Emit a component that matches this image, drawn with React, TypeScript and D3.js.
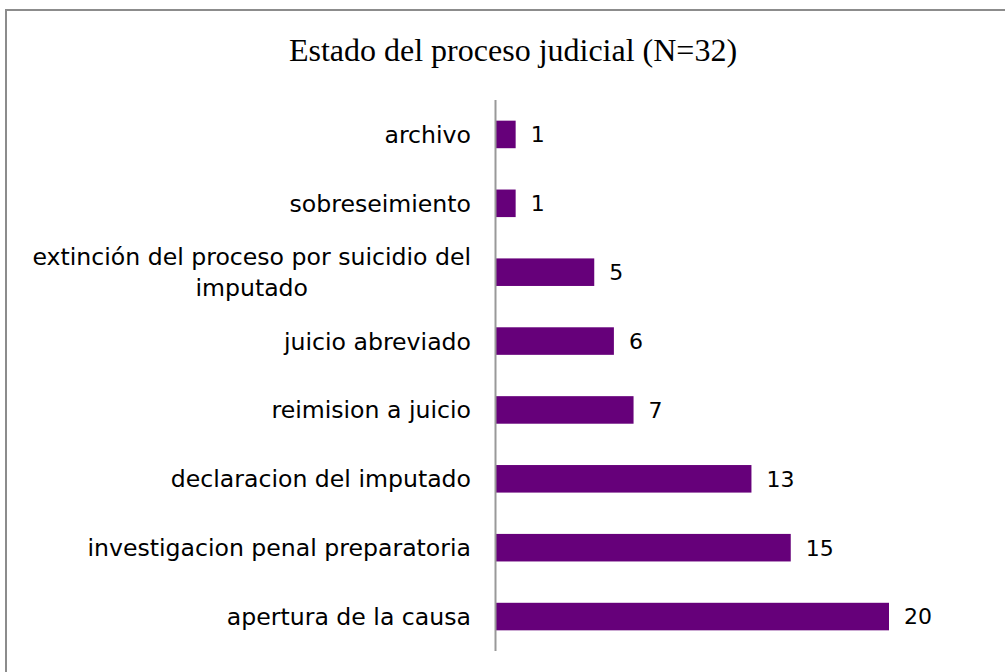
import React, { useEffect, useRef } from 'react';
import * as d3 from 'd3';

const title = 'Estado del proceso judicial (N=32)';
const categories = [
  'archivo',
  'sobreseimiento',
  'extinción del proceso por suicidio del imputado',
  'juicio abreviado',
  'reimision a juicio',
  'declaracion del imputado',
  'investigacion penal preparatoria',
  'apertura de la causa',
];
const values = [1, 1, 5, 6, 7, 13, 15, 20];

const W = 1005;
const H = 672;

export default function App() {
  const svgRef = useRef<SVGSVGElement>(null);

  useEffect(() => {
    if (!svgRef.current) return;
    const svg = d3.select(svgRef.current);
    svg.selectAll('*').remove();

    const left = 496;
    const top = 100;
    const bottom = 651;
    const labelFont = '"DejaVu Sans", sans-serif';
    const labelSize = '23.6px';

    // chart frame
    svg.append('rect')
      .attr('x', 6).attr('y', 10)
      .attr('width', W + 20).attr('height', H + 20)
      .attr('fill', '#fff')
      .attr('stroke', '#8c8c8c')
      .attr('stroke-width', 2);

    svg.append('text')
      .attr('x', 513).attr('y', 61)
      .attr('text-anchor', 'middle')
      .style('font-family', '"Liberation Serif", serif')
      .style('font-size', '32px')
      .attr('fill', '#000')
      .text(title);

    const x = d3.scaleLinear().domain([0, 20]).range([left, 889]);
    const y = d3.scaleBand<string>().domain(categories).range([top, bottom]).paddingInner(0.6).paddingOuter(0.3);

    const g = svg.append('g');

    g.selectAll('rect.bar')
      .data(values)
      .enter()
      .append('rect')
      .attr('class', 'bar')
      .attr('x', x(0))
      .attr('y', (d, i) => y(categories[i])!)
      .attr('width', d => x(d) - x(0))
      .attr('height', y.bandwidth())
      .attr('fill', '#66007a');

    // value labels
    g.selectAll('text.val')
      .data(values)
      .enter()
      .append('text')
      .attr('class', 'val')
      .attr('x', d => x(d) + 15)
      .attr('y', (d, i) => y(categories[i])! + y.bandwidth() / 2)
      .attr('dy', '0.36em')
      .style('font-family', labelFont)
      .style('font-size', '22px')
      .attr('fill', '#000')
      .text(d => d);

    // axis line
    svg.append('line')
      .attr('x1', left - 0.5).attr('x2', left - 0.5)
      .attr('y1', top).attr('y2', bottom)
      .attr('stroke', '#999')
      .attr('stroke-width', 2);

    // category labels with wrapping
    const labelRight = 471;
    const maxW = 465;
    categories.forEach(cat => {
      const cy = y(cat)! + y.bandwidth() / 2;
      const probe = svg.append('text')
        .style('font-family', labelFont)
        .style('font-size', labelSize);
      const words = cat.split(' ');
      const lines: string[] = [];
      let cur = '';
      words.forEach(w => {
        const test = cur ? cur + ' ' + w : w;
        probe.text(test);
        if ((probe.node() as SVGTextElement).getComputedTextLength() > maxW && cur) {
          lines.push(cur);
          cur = w;
        } else {
          cur = test;
        }
      });
      lines.push(cur);
      probe.text(lines[0]);
      const w0 = (probe.node() as SVGTextElement).getComputedTextLength();
      probe.remove();

      const lh = 31;
      const t = svg.append('text')
        .style('font-family', labelFont)
        .style('font-size', labelSize)
        .attr('fill', '#000');
      if (lines.length === 1) {
        t.attr('x', labelRight).attr('y', cy).attr('dy', '0.36em')
          .attr('text-anchor', 'end').text(cat);
      } else {
        const cx = labelRight - w0 / 2;
        lines.forEach((ln, k) => {
          t.append('tspan')
            .attr('x', cx)
            .attr('y', cy + (k - (lines.length - 1) / 2) * lh)
            .attr('dy', '0.36em')
            .attr('text-anchor', 'middle')
            .text(ln);
        });
      }
    });
  }, []);

  return (
    <div style={{ position: 'absolute', left: 0, top: 0 }}>
      <svg ref={svgRef} width={W} height={H} style={{ display: 'block' }} />
    </div>
  );
}
